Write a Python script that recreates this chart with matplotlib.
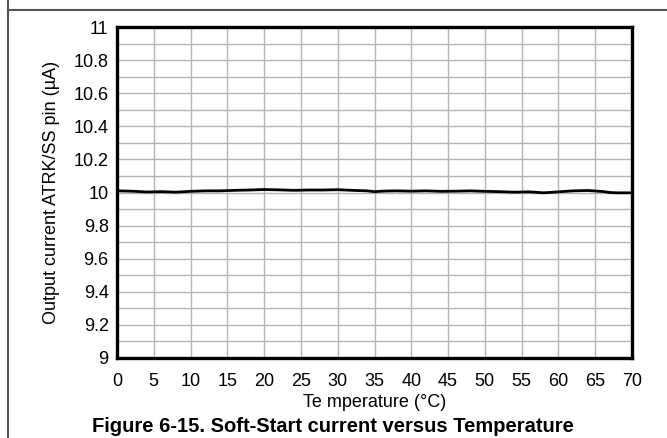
import matplotlib
matplotlib.use("Agg")
import matplotlib.pyplot as plt
from matplotlib.lines import Line2D
import numpy as np

plt.rcParams['font.family'] = ['Liberation Sans', 'DejaVu Sans']

temperature = [0, 2, 4, 6, 8, 10, 12, 14, 16, 18, 20, 22, 24, 26, 28, 30, 32, 34, 35, 36, 38,
               40, 42, 44, 46, 48, 50, 52, 54, 56, 58, 60, 62, 64, 66, 67, 68, 70]
current = [10.010, 10.008, 10.003, 10.005, 10.002, 10.007, 10.010, 10.010, 10.013, 10.015, 10.018,
           10.016, 10.013, 10.015, 10.015, 10.017, 10.013, 10.010, 10.005, 10.008, 10.010,
           10.008, 10.010, 10.007, 10.008, 10.010, 10.007, 10.005, 10.002, 10.004, 9.998,
           10.004, 10.010, 10.012, 10.006, 10.000, 9.998, 9.998]

x_ticks = list(range(0, 71, 5))
y_ticks = [9, 9.2, 9.4, 9.6, 9.8, 10, 10.2, 10.4, 10.6, 10.8, 11]
y_labels = ['9', '9.2', '9.4', '9.6', '9.8', '10', '10.2', '10.4', '10.6', '10.8', '11']

fig = plt.figure(figsize=(6.67, 4.38), dpi=100)
ax = fig.add_axes([117/667, 1-358/438, (632-117)/667, (358-27)/438])

ax.plot(temperature, current, color='black', lw=2.0, zorder=3)

ax.set_xlim(0, 70)
ax.set_ylim(9, 11)
ax.set_xticks(x_ticks)
ax.set_yticks(y_ticks)
ax.set_yticklabels(y_labels)
ax.set_yticks(np.arange(9.1, 11, 0.2), minor=True)
ax.grid(True, which='both', color='#b4b4b4', lw=1.0)
ax.tick_params(axis='both', which='both', length=0, labelsize=13)
ax.tick_params(axis='x', pad=11)
ax.tick_params(axis='y', pad=6)
for s in ax.spines.values():
    s.set_linewidth(2.4)
    s.set_color('black')

ax.set_xlabel('Te mperature (°C)', fontsize=13, labelpad=3)
ax.set_ylabel('Output current ATRK/SS pin (µA)', fontsize=13, labelpad=10)

fig.text(333/667, 1-427/438, 'Figure 6-15. Soft-Start current versus Temperature',
         ha='center', va='center', fontsize=14.5, fontweight='bold')

fig.add_artist(Line2D([8/667, 1], [1-10/438, 1-10/438], color='#555555', lw=1.5,
                      transform=fig.transFigure))
fig.add_artist(Line2D([8/667, 8/667], [0, 1], color='#555555', lw=1.5,
                      transform=fig.transFigure))

fig.savefig('out.png', dpi=100)
